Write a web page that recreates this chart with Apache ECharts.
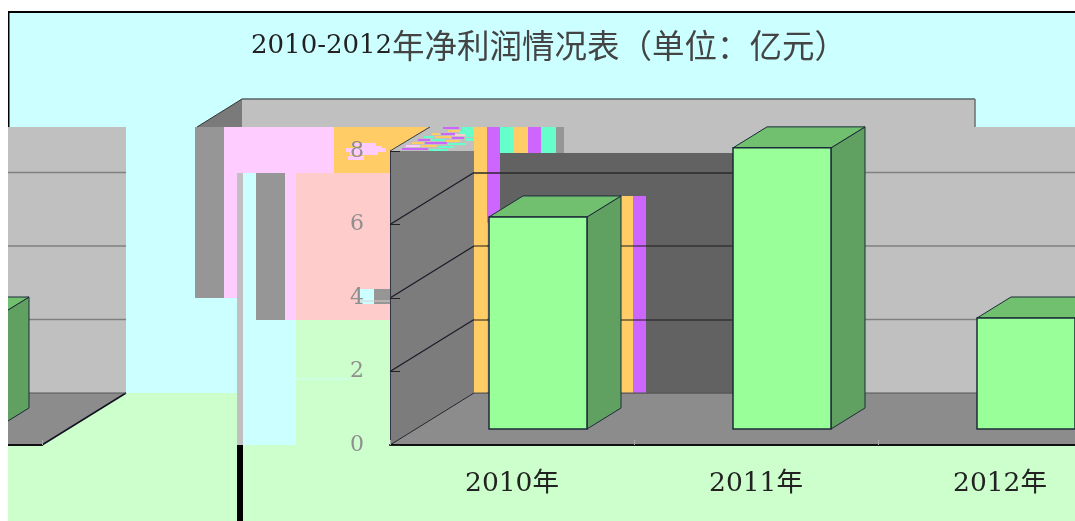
<!DOCTYPE html>
<html>
<head>
<meta charset="utf-8">
<script src="https://cdn.jsdelivr.net/npm/echarts@6/dist/echarts.min.js"></script>
<style>html,body{margin:0;padding:0;background:#fff}#c{width:1075px;height:521px}</style>
</head>
<body>
<div id="c"></div>
<script>
const titleDigits = '2010-2012';
const titleWords = '年净利润情况表（单位：亿元）';
const categories = ['2010年', '2011年', '2012年'];
const profits = [5.77, 7.65, 3.02];
const yTicks = [0, 2, 4, 6, 8];

const CYAN = '#CCFFFF', GREEN = '#CCFFCC', PINK = '#FFCCFF', ROSE = '#FFCCCC', ORANGE = '#FFCC66',
      PURPLE = '#CC66FF', TEAL = '#66FFCC', GREY = '#969696', SILVER = '#C0C0C0', DARK = '#626262';
const SERIF = '"DejaVu Serif","Noto Sans CJK SC",serif';

// the plot's 3D box: how far the back of the box and the bars sit from the front plane
const WALL_DX = 84, WALL_DY = -52, BAR_SHIFT_X = 26, BAR_SHIFT_Y = -16, BAR_DX = 34, BAR_DY = -21, BAR_RATIO = 98 / 244;

function rect(x, y, w, h, fill, z) {
  return { type: 'rect', silent: true, z: z, shape: { x, y, width: w, height: h }, style: { fill } };
}
function line(x1, y1, x2, y2, stroke, width, z) {
  return { type: 'line', silent: true, z: z, shape: { x1, y1, x2, y2 }, style: { stroke, lineWidth: width } };
}
function poly(points, fill, stroke, z) {
  return { type: 'polygon', silent: true, z: z, shape: { points }, style: { fill, stroke: stroke || null, lineWidth: 1 } };
}

// scrambled picture blocks behind the box
const under = [
  rect(8, 13, 1067, 380, CYAN, 0),
  rect(8, 393, 1067, 128, GREEN, 0),
  rect(296, 320, 779, 73, GREEN, 0),
  rect(195, 127, 29, 171, GREY, 0),
  rect(224, 127, 13, 171, PINK, 0),
  rect(237, 127, 97, 46, PINK, 0),
  rect(334, 127, 96, 24, ORANGE, 0),
  rect(334, 151, 56, 22, ORANGE, 0),
  rect(296, 173, 94, 147, ROSE, 0),
  rect(237, 173, 6, 272, SILVER, 0),
  rect(237, 445, 6, 76, '#000', 0),
  rect(243, 173, 13, 147, CYAN, 0),
  rect(243, 320, 53, 125, CYAN, 0),
  rect(256, 173, 29, 147, GREY, 0),
  rect(285, 173, 11, 147, PINK, 0),
  rect(360, 289, 14, 15, CYAN, 0),
  rect(374, 289, 16, 15, GREY, 0),
  line(360, 301, 390, 301, '#DDCCCC', 1, 0),
  line(296, 379, 350, 379, CYAN, 1, 0),
  rect(346, 148, 40, 4, PINK, 0),
  rect(350, 152, 28, 3, PINK, 0),
  rect(352, 143, 24, 3, PINK, 0),
  rect(348, 156, 16, 4, PINK, 0),
  rect(362, 146, 20, 2, PINK, 0)
];

// scrambled picture blocks laid over the walls
const stripes = [
  [443, 127, 16, 2, PURPLE], [462, 127, 12, 4, TEAL], [437, 130, 10, 2, SILVER], [448, 130, 12, 2, ORANGE],
  [460, 131, 14, 3, TEAL], [432, 133, 8, 2, ORANGE], [441, 133, 14, 2, PURPLE], [455, 134, 10, 2, ROSE],
  [465, 134, 9, 3, TEAL], [424, 136, 10, 2, TEAL], [435, 136, 16, 2, ORANGE], [452, 137, 12, 2, PURPLE],
  [466, 138, 8, 3, TEAL], [418, 139, 12, 2, PURPLE], [431, 139, 14, 2, TEAL], [446, 140, 14, 2, ORANGE],
  [412, 142, 12, 2, ORANGE], [425, 142, 22, 2, PURPLE], [448, 143, 18, 2, TEAL], [406, 145, 14, 2, PINK],
  [421, 145, 16, 2, ORANGE], [438, 146, 16, 2, TEAL], [402, 148, 26, 2, PURPLE], [430, 149, 18, 2, TEAL]
];
const over = [
  rect(8, 13, 187, 114, CYAN, 2),
  rect(975, 13, 100, 114, CYAN, 2),
  rect(242, 99, 733, 28, SILVER, 2),
  poly([[197, 127], [242, 99], [242, 127]], '#7a7a7a', null, 2),
  line(197, 127, 242, 99, '#333', 1, 2),
  line(242, 99, 975, 99, '#5a6666', 1.5, 2),
  line(975, 99, 975, 127, '#6a7070', 1.5, 2),
  poly([[429, 127], [474, 127], [474, 151], [390, 151]], SILVER, null, 2)
].concat(stripes.map(s => rect(s[0], s[1], s[2], s[3], s[4], 2))).concat([
  line(390, 151, 430, 127, '#444', 1, 2),
  rect(474, 127, 13, 266, ORANGE, 2),
  rect(487, 127, 13, 26, PURPLE, 2),
  rect(487, 153, 13, 70, PURPLE, 2),
  rect(500, 127, 14, 26, TEAL, 2),
  rect(514, 127, 14, 26, ORANGE, 2),
  rect(528, 127, 13, 26, PURPLE, 2),
  rect(541, 127, 15, 26, TEAL, 2),
  rect(556, 127, 8, 26, GREY, 2),
  rect(500, 153, 234, 240, DARK, 2),
  rect(621, 196, 12, 197, ORANGE, 2),
  rect(633, 196, 13, 197, PURPLE, 2),
  line(474, 173, 734, 173, '#2a2a2a', 1.5, 2),
  line(474, 246, 734, 246, '#1c1c1c', 1, 2),
  line(474, 320, 734, 320, '#1c1c1c', 1, 2),
  line(474, 393, 734, 393, '#555', 1, 2)
]);
const covers = [
  rect(0, 0, 8, 521, '#fff', 9),
  rect(0, 0, 1075, 11, '#fff', 9),
  rect(8, 11, 1067, 2, '#000', 9),
  rect(8, 11, 1.5, 116, '#000', 9)
];

function renderBox(params, api) {
  const band = api.size([1, 0])[0];
  const left = api.coord([0, 0])[0] - band / 2;
  const right = left + band * categories.length;
  const yAt = v => api.coord([0, v])[1];
  const els = [];
  const back = (x, y) => [x + WALL_DX, y + WALL_DY];
  els.push({ type: 'polygon', shape: { points: [[left, yAt(8)], back(left, yAt(8)), back(left, yAt(0)), [left, yAt(0)]] }, style: { fill: '#7c7c7c' } });
  els.push({ type: 'polygon', shape: { points: [back(left, yAt(8)), back(right, yAt(8)), back(right, yAt(0)), back(left, yAt(0))] }, style: { fill: SILVER } });
  els.push({ type: 'polygon', shape: { points: [[left, yAt(0)], back(left, yAt(0)), back(right, yAt(0)), [right, yAt(0)]] }, style: { fill: '#8c8c8c' } });
  yTicks.slice(1, -1).forEach(v => {
    const y = yAt(v);
    const b = back(left, y);
    els.push({ type: 'line', shape: { x1: left, y1: y, x2: b[0], y2: b[1] }, style: { stroke: '#1c1c2a', lineWidth: 1.3 } });
    els.push({ type: 'line', shape: { x1: b[0], y1: b[1], x2: b[0] + band * categories.length, y2: b[1] }, style: { stroke: '#808080', lineWidth: 1.5 } });
  });
  const fb = back(left, yAt(0)), rb = back(right, yAt(0));
  els.push({ type: 'line', shape: { x1: left, y1: yAt(0), x2: fb[0], y2: fb[1] }, style: { stroke: '#22222e', lineWidth: 1 } });
  els.push({ type: 'line', shape: { x1: right, y1: yAt(0), x2: rb[0], y2: rb[1] }, style: { stroke: '#111122', lineWidth: 1.5 } });
  els.push({ type: 'line', shape: { x1: fb[0], y1: fb[1], x2: rb[0], y2: rb[1] }, style: { stroke: '#555', lineWidth: 1 } });
  return { type: 'group', children: els };
}

function renderBar(params, api) {
  const p = api.coord([api.value(0), api.value(1)]);
  const base = api.coord([api.value(0), 0]);
  const w = api.size([1, 0])[0] * BAR_RATIO;
  const x0 = p[0] + BAR_SHIFT_X - w / 2, x1 = x0 + w;
  const yTop = p[1] + BAR_SHIFT_Y, yBot = base[1] + BAR_SHIFT_Y;
  const edge = '#1d2b3a';
  return { type: 'group', children: [
    { type: 'polygon', shape: { points: [[x1, yTop], [x1 + BAR_DX, yTop + BAR_DY], [x1 + BAR_DX, yBot + BAR_DY], [x1, yBot]] }, style: { fill: '#60A060', stroke: edge, lineWidth: 1 } },
    { type: 'polygon', shape: { points: [[x0, yTop], [x0 + BAR_DX, yTop + BAR_DY], [x1 + BAR_DX, yTop + BAR_DY], [x1, yTop]] }, style: { fill: '#70C070', stroke: edge, lineWidth: 1 } },
    { type: 'rect', shape: { x: x0, y: yTop, width: w, height: yBot - yTop }, style: { fill: '#99FF99', stroke: edge, lineWidth: 1.5 } }
  ] };
}

const barData = categories.map((c, i) => [i, profits[i]]);
const chart = echarts.init(document.getElementById('c'), null, { renderer: 'canvas' });
chart.setOption({
  animation: false,
  backgroundColor: '#fff',
  title: {
    left: 246, top: 20, z: 10,
    text: '{d|' + titleDigits + '}{c|' + titleWords + '}',
    textStyle: {
      fontWeight: 'normal',
      rich: {
        d: { fontFamily: SERIF, fontSize: 26, fontWeight: 'normal', color: '#222', lineHeight: 42 },
        c: { fontFamily: '"Noto Sans CJK SC",sans-serif', fontSize: 32.5, fontWeight: 'normal', color: '#444', lineHeight: 42 }
      }
    }
  },
  grid: [
    { left: 390, top: 151, width: 732, height: 294, containLabel: false, outerBoundsMode: 'none' },
    { left: -690, top: 151, width: 732, height: 294, containLabel: false, outerBoundsMode: 'none' }
  ],
  xAxis: [
    { type: 'category', gridIndex: 0, data: categories, z: 5,
      axisLine: { lineStyle: { color: '#111', width: 2 } },
      axisTick: { show: true, inside: true, length: 5, lineStyle: { color: '#aaa', width: 1 } },
      axisLabel: { margin: 26, fontFamily: SERIF, fontSize: 26.5, color: '#222', interval: 0 } },
    { type: 'category', gridIndex: 1, data: categories, z: 5,
      axisLine: { lineStyle: { color: '#111', width: 2 } },
      axisTick: { show: true, inside: true, length: 5, lineStyle: { color: '#aaa', width: 1 } },
      axisLabel: { show: false } }
  ],
  yAxis: [
    { type: 'value', gridIndex: 0, min: 0, max: 8, interval: 2, z: 5,
      splitLine: { show: false },
      axisLine: { show: true, lineStyle: { color: '#333348', width: 1 } },
      axisTick: { show: true, inside: true, length: 10, lineStyle: { color: '#222', width: 1 } },
      axisLabel: { margin: 26, padding: [4, 0, 0, 0], fontFamily: SERIF, fontSize: 22, color: '#8f8f8f' } },
    { type: 'value', gridIndex: 1, min: 0, max: 8, interval: 2, show: false, splitLine: { show: false } }
  ],
  graphic: { elements: under.concat(over, covers) },
  series: [
    { type: 'custom', name: 'box', coordinateSystem: 'cartesian2d', xAxisIndex: 0, yAxisIndex: 0, z: 1, silent: true, renderItem: renderBox, data: [[0, 0]] },
    { type: 'custom', name: 'box wrapped', coordinateSystem: 'cartesian2d', xAxisIndex: 1, yAxisIndex: 1, z: 1, silent: true, renderItem: renderBox, data: [[0, 0]] },
    { type: 'custom', name: '净利润', coordinateSystem: 'cartesian2d', xAxisIndex: 0, yAxisIndex: 0, z: 3, silent: true, renderItem: renderBar, encode: { x: 0, y: 1 }, data: barData },
    { type: 'custom', name: '净利润 wrapped', coordinateSystem: 'cartesian2d', xAxisIndex: 1, yAxisIndex: 1, z: 3, silent: true, renderItem: renderBar, encode: { x: 0, y: 1 }, data: barData }
  ]
});
</script>
</body>
</html>
